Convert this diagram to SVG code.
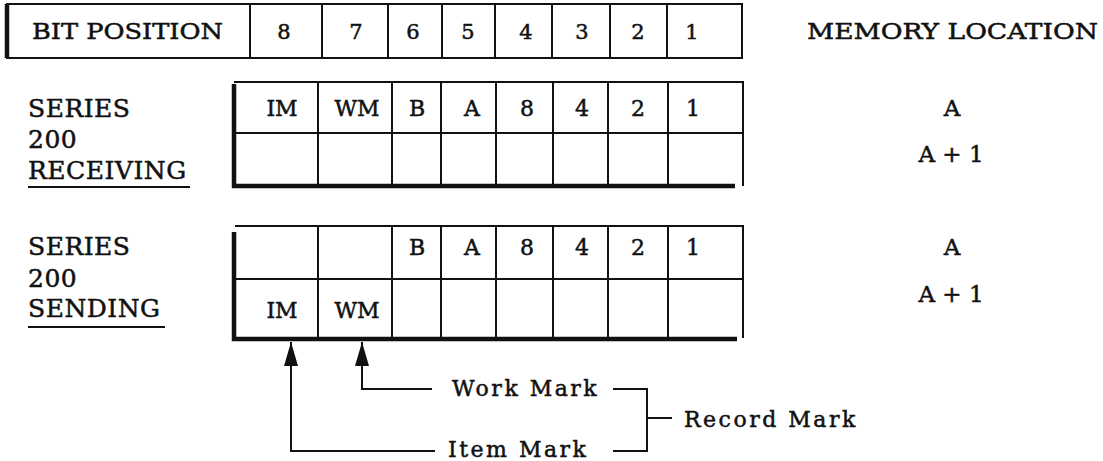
<svg xmlns="http://www.w3.org/2000/svg" width="1103" height="461" viewBox="0 0 1103 461">
<style>
text{font-family:"DejaVu Serif","Liberation Serif",serif;fill:#111;stroke:#111;stroke-width:0.5;}
.lbl{font-size:25px;letter-spacing:0.5px;}
.top{font-size:23px;}
.cell{font-size:22px;text-anchor:middle;}
.digit{font-size:21px;text-anchor:middle;}
.mem{font-size:23px;text-anchor:middle;}
.mark{font-size:22px;letter-spacing:2.5px;}
.thin{stroke:#111;stroke-width:2;fill:none;}
.thick{stroke:#111;stroke-width:4.5;fill:none;}
.conn{stroke:#111;stroke-width:2;fill:none;}
</style>
<defs>
<marker id="ah" markerWidth="24" markerHeight="14" refX="24" refY="7" orient="auto" markerUnits="userSpaceOnUse" viewBox="0 0 24 14">
<path d="M0,0 L24,7 L0,14 Z" fill="#111"/>
</marker>
</defs>
<rect width="1103" height="461" fill="#fff"/>

<g id="bit-position-row">
<path class="thin" d="M6,4 H742 V58 H6"/>
<path class="thick" d="M7,4 V58"/>
<path class="thin" d="M250,4 V58 M322,4 V58 M388,4 V58 M442,4 V58 M495,4 V58 M552,4 V58 M610,4 V58 M667,4 V58"/>
<text class="top" x="32" y="39" textLength="191" lengthAdjust="spacingAndGlyphs">BIT POSITION</text>
<text class="digit" x="284" y="39">8</text>
<text class="digit" x="356" y="39">7</text>
<text class="digit" x="413" y="39">6</text>
<text class="digit" x="468" y="39">5</text>
<text class="digit" x="526" y="39">4</text>
<text class="digit" x="582" y="39">3</text>
<text class="digit" x="638" y="39">2</text>
<text class="digit" x="692" y="39">1</text>
</g>

<g id="memory-location">
<text class="top" x="807" y="39" textLength="291" lengthAdjust="spacingAndGlyphs">MEMORY LOCATION</text>
<text class="mem" x="952" y="116">A</text>
<text class="mem" x="951" y="162">A + 1</text>
<text class="mem" x="952" y="255">A</text>
<text class="mem" x="951" y="302">A + 1</text>
</g>

<g id="receiving-label">
<text class="lbl" x="28" y="117">SERIES</text>
<text class="lbl" x="28" y="148">200</text>
<text class="lbl" x="28" y="179">RECEIVING</text>
<path class="thin" d="M28,187 H190"/>
</g>

<g id="receiving-table">
<path class="thin" d="M234,82 H743 V186 M234,133 H743"/>
<path class="thin" d="M318,82 V184 M392,82 V184 M441,82 V184 M496,82 V184 M553,82 V184 M608,82 V184 M668,82 V184"/>
<path class="thick" d="M234,84 V186 H735"/>
<text class="cell" x="282" y="116">IM</text>
<text class="cell" x="357" y="116">WM</text>
<text class="cell" x="417" y="116">B</text>
<text class="cell" x="472" y="116">A</text>
<text class="cell" x="527" y="116">8</text>
<text class="cell" x="582" y="116">4</text>
<text class="cell" x="638" y="116">2</text>
<text class="cell" x="693" y="116">1</text>
</g>

<g id="sending-label">
<text class="lbl" x="28" y="255">SERIES</text>
<text class="lbl" x="28" y="287">200</text>
<text class="lbl" x="28" y="317">SENDING</text>
<path class="thin" d="M28,327 H165"/>
</g>

<g id="sending-table">
<path class="thin" d="M235,226 H743 V338 M234,279 H743"/>
<path class="thin" d="M318,226 V338 M392,226 V338 M441,226 V338 M496,226 V338 M553,226 V338 M608,226 V338 M668,226 V338"/>
<path class="thick" d="M234,232 V339 H737"/>
<text class="cell" x="417" y="255">B</text>
<text class="cell" x="472" y="255">A</text>
<text class="cell" x="527" y="255">8</text>
<text class="cell" x="582" y="255">4</text>
<text class="cell" x="638" y="255">2</text>
<text class="cell" x="693" y="255">1</text>
<text class="cell" x="282" y="318">IM</text>
<text class="cell" x="357" y="318">WM</text>
</g>

<g id="connectors">
<path class="conn" d="M432,389 H362 V342" marker-end="url(#ah)"/>
<path class="conn" d="M435,451 H291 V342" marker-end="url(#ah)"/>
<path class="conn" d="M613,389 H647 V451 H613 M647,418 H672"/>
</g>

<g id="work-mark-label"><text class="mark" x="452" y="396">Work Mark</text></g>
<g id="item-mark-label"><text class="mark" x="448" y="457">Item Mark</text></g>
<g id="record-mark-label"><text class="mark" x="684" y="427">Record Mark</text></g>
</svg>
